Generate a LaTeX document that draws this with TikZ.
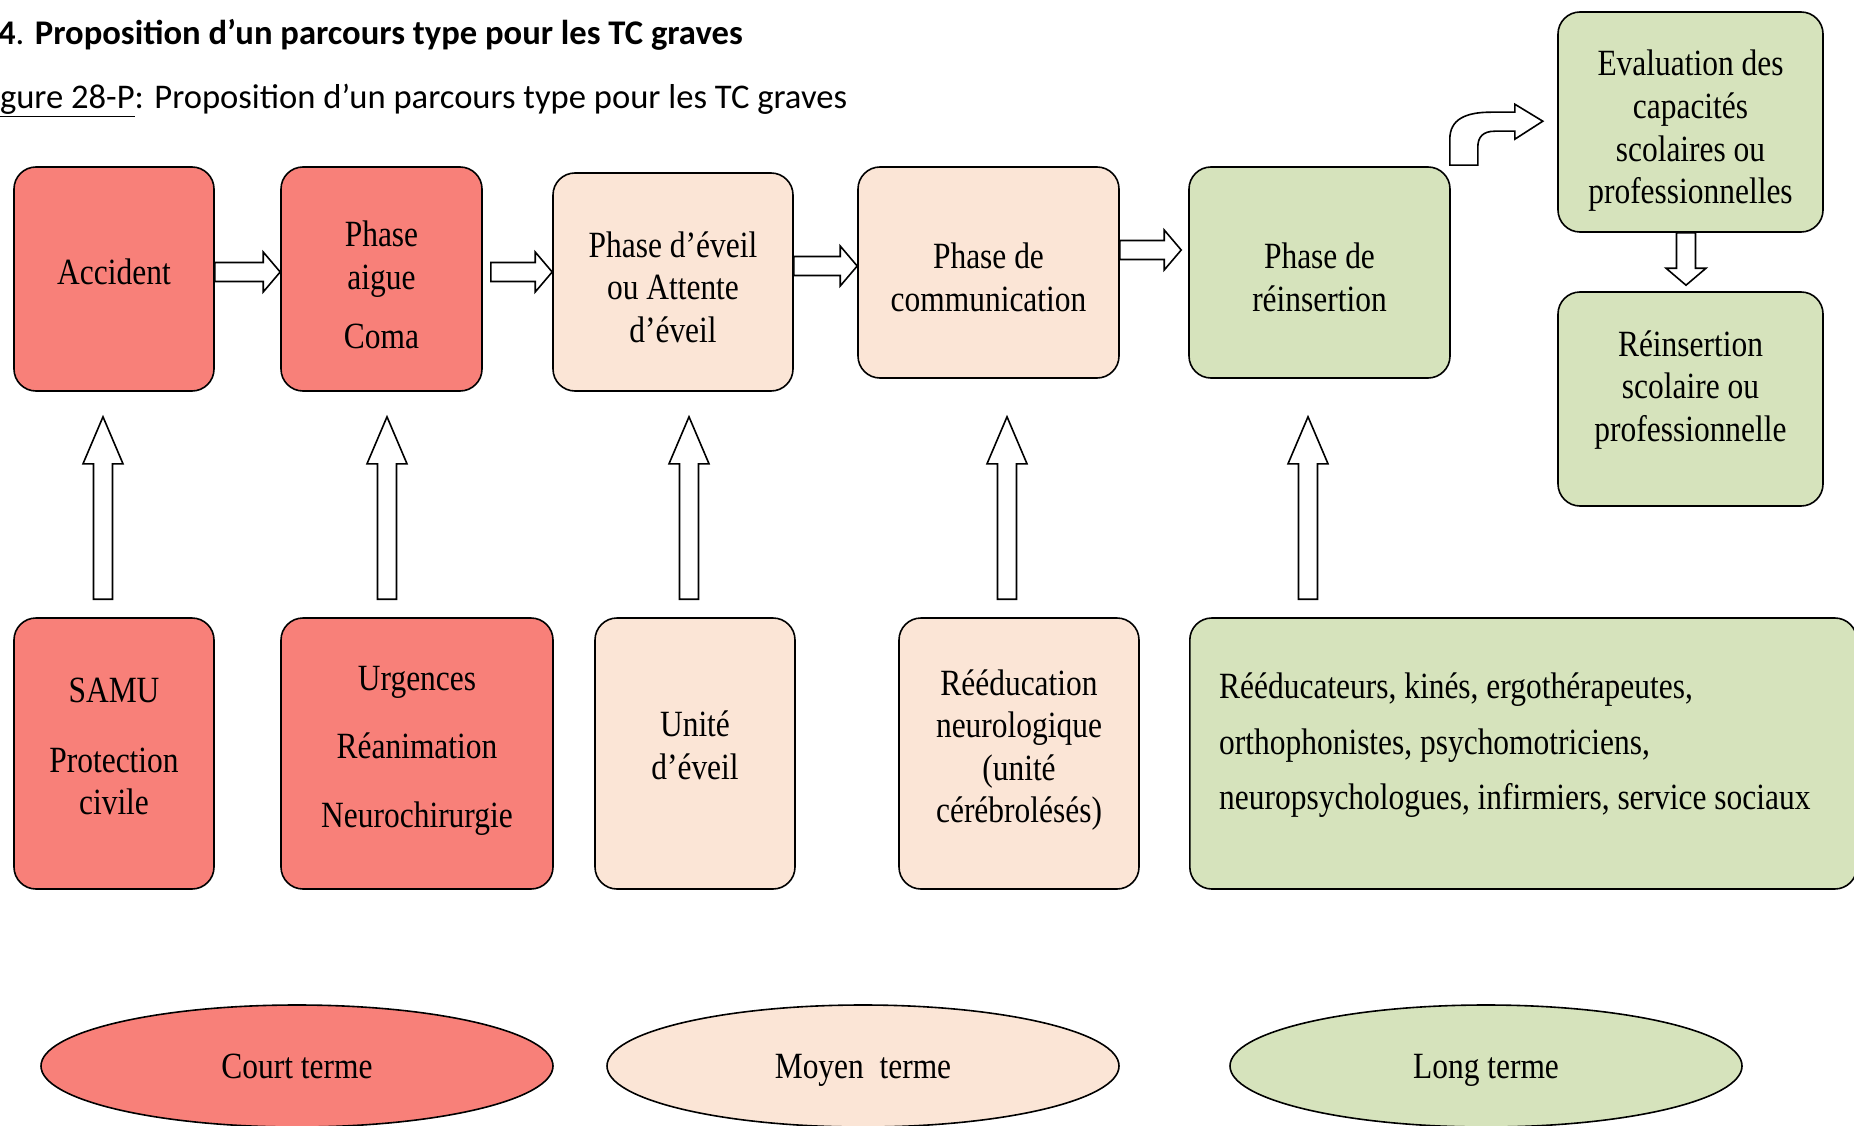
\documentclass[tikz,border=0pt]{standalone}
\usepackage{fontspec}
\setmainfont[FakeStretch=0.85]{Liberation Serif}
\newfontfamily\titlefont{Carlito}
\usetikzlibrary{positioning,shapes.geometric,calc}
\definecolor{redfill}{RGB}{248,128,121}
\definecolor{peachfill}{RGB}{251,229,214}
\definecolor{greenfill}{RGB}{214,227,188}

\begin{document}
\begin{tikzpicture}[
  x=1pt, y=-1pt,
  every node/.style={font=\fontsize{37}{42.6}\selectfont},
  %% Box styles
  roundbox/.style={
    rectangle, rounded corners=22pt, draw=black, line width=1.6pt,
    inner sep=0pt,
  },
  rdnode/.style={roundbox, fill=redfill},
  pknode/.style={roundbox, fill=peachfill},
  grnode/.style={roundbox, fill=greenfill},
  txt/.style={align=center, inner sep=0pt},
  tnode/.style={
    ellipse, draw=black, line width=1.6pt, inner sep=0pt, text depth=0pt,
    minimum width=512pt, minimum height=122pt,
  },
  %% Block arrow (hollow), #1 = head length
  fedge/.style={
    draw=black, fill=white, line width=1.6pt, line join=miter,
    to path={let \p1=(\tikztostart), \p2=(\tikztotarget),
      \n1={atan2(\y2-\y1,\x2-\x1)}, \n2={veclen(\x2-\x1,\y2-\y1)} in
      ([shift={(\p1)},rotate=\n1]0pt,-9.5pt)
      -- ([shift={(\p1)},rotate=\n1]\n2-#1,-9.5pt)
      -- ([shift={(\p1)},rotate=\n1]\n2-#1,-20pt)
      -- ([shift={(\p1)},rotate=\n1]\n2,0pt)
      -- ([shift={(\p1)},rotate=\n1]\n2-#1,20pt)
      -- ([shift={(\p1)},rotate=\n1]\n2-#1,9.5pt)
      -- ([shift={(\p1)},rotate=\n1]0pt,9.5pt) -- cycle},
  },
  fedge/.default=17pt,
  bentedge/.style={draw=black, fill=white, line width=1.6pt, line join=miter},
]
\useasboundingbox (0,0) rectangle (1854,1126);

%% =============================================================
%%  Headings
%% =============================================================
\node[font=\titlefont\fontsize{34.6}{40}\selectfont, anchor=base west, inner sep=0pt]
    (ttl) at (-2,45) {\textbf{4}. \textbf{Proposition d’un parcours type pour les TC graves}};
\node[font=\titlefont\fontsize{34.6}{40}\selectfont, anchor=base west, inner sep=0pt]
    (fig) at (-24,108.5) {\underline{Figure 28-P}: Proposition d’un parcours type pour les TC graves};

%% =============================================================
%%  Top row  --  phases
%% =============================================================
\node[rdnode, minimum width=200pt, minimum height=224pt] (acc) at (114,279) {};
\node[rdnode, minimum width=201pt, minimum height=224pt] (aig) at (381.5,279) {};
\node[pknode, minimum width=240pt, minimum height=218pt] (eveil) at (673,282) {};
\node[pknode, minimum width=261pt, minimum height=211pt] (comm) at (988.5,272.5) {};
\node[grnode, minimum width=261pt, minimum height=211pt] (reins) at (1319.5,272.5) {};
\node[grnode, minimum width=265pt, minimum height=220pt] (eval) at (1690.5,122) {};
\node[grnode, minimum width=265pt, minimum height=214pt] (reinsc) at (1690.5,399) {};

\node[txt] (acc-t) at ([yshift=7pt]acc) {Accident};
\node[txt] (aig-t) at ([yshift=-6pt]aig) {Phase\\aigue\\[17pt]Coma};
\node[txt] (eveil-t) at ([yshift=-5pt]eveil) {Phase d’éveil\\ou Attente\\d’éveil};
\node[txt] (comm-t) at ([yshift=-5pt]comm) {Phase de\\communication};
\node[txt] (reins-t) at ([yshift=-5pt]reins) {Phase de\\réinsertion};
\node[txt] (eval-t) at ([yshift=-9pt]eval)
    {Evaluation des\\capacités\\scolaires ou\\professionnelles};
\node[txt] (reinsc-t) at ([yshift=9pt]reinsc) {Réinsertion\\scolaire ou\\professionnelle};

%% =============================================================
%%  Bottom row  --  actors
%% =============================================================
\node[rdnode, minimum width=200pt, minimum height=271pt] (samu) at (114,753.5) {};
\node[rdnode, minimum width=272pt, minimum height=271pt] (urg) at (417,753.5) {};
\node[pknode, minimum width=200pt, minimum height=271pt] (unite) at (695,753.5) {};
\node[pknode, minimum width=240pt, minimum height=271pt] (reedu) at (1019,753.5) {};
\node[grnode, minimum width=667pt, minimum height=271pt, anchor=west] (pros) at (1189,753.5) {};

\node[txt] (samu-t) at ([yshift=7pt]samu) {SAMU\\[27pt]Protection\\civile};
\node[txt] (urg-t) at ([yshift=3pt]urg) {Urgences\\[26pt]Réanimation\\[26pt]Neurochirurgie};
\node[txt] (unite-t) at ([yshift=8pt]unite) {Unité\\d’éveil};
\node[txt] (reedu-t) at ([yshift=3.5pt]reedu)
    {Rééducation\\neurologique\\(unité\\cérébrolésés)};
\node[txt, align=left, anchor=west] (pros-t) at ([xshift=30pt,yshift=8pt]pros.west)
    {Rééducateurs, kinés, ergothérapeutes,\\[13pt]orthophonistes, psychomotriciens,\\[13pt]neuropsychologues, infirmiers, service sociaux};

%% =============================================================
%%  Time scale
%% =============================================================
\node[tnode, fill=redfill] (court) at (297,1066) {Court terme};
\node[tnode, fill=peachfill] (moyen) at (863,1066) {Moyen\ \ terme};
\node[tnode, fill=greenfill] (long) at (1486,1066) {Long terme};

%% =============================================================
%%  Arrows
%% =============================================================
%% phase to phase
\draw[fedge] ([yshift=7pt]acc.east) to ([yshift=7pt]acc.east -| aig.west);
\draw[fedge] ([xshift=8pt,yshift=7pt]aig.east) to ([yshift=7pt]aig.east -| eveil.west);
\draw[fedge] ([yshift=16pt]eveil.east) to ([yshift=16pt]eveil.east -| comm.west);
\draw[fedge] ([yshift=22.5pt]comm.east) to ([xshift=-7pt,yshift=22.5pt]comm.east -| reins.west);
\draw[fedge] ([xshift=-4.5pt]eval.south) to ([xshift=-4.5pt,yshift=6pt]eval.south |- reinsc.north);

%% actors up to phases
\draw[fedge=47pt] ([xshift=-11pt,yshift=18pt]samu.north)
    to ([xshift=-11pt,yshift=-25pt]samu.north |- acc.south);
\draw[fedge=47pt] ([xshift=-30pt,yshift=18pt]urg.north)
    to ([xshift=-30pt,yshift=-25pt]urg.north |- aig.south);
\draw[fedge=47pt] ([xshift=-6pt,yshift=18pt]unite.north)
    to ([xshift=-6pt,yshift=-25pt]unite.north |- eveil.south);
\draw[fedge=47pt] ([xshift=-12pt,yshift=18pt]reedu.north)
    to ([xshift=-12pt,yshift=-38pt]reedu.north |- comm.south);
\draw[fedge=47pt] ([xshift=119pt,yshift=18pt]pros.north west)
    to ([xshift=119pt,yshift=-38pt]pros.north west |- reins.south);

%% bent arrow: reinsertion -> evaluation
\draw[bentedge] ([xshift=-1pt,yshift=1pt]reins.north east) -- ++(0,-26)
    .. controls +(0,-20) and +(-25,0) .. ++(41,-27) -- ++(24,0) -- ++(0,-8)
    -- ++(28,17) -- ++(-28,18) -- ++(0,-8) -- ++(-20,0)
    .. controls +(-12,0) and +(0,-10) .. ++(-17,16) -- ++(0,18) -- cycle;

\end{tikzpicture}
\end{document}
